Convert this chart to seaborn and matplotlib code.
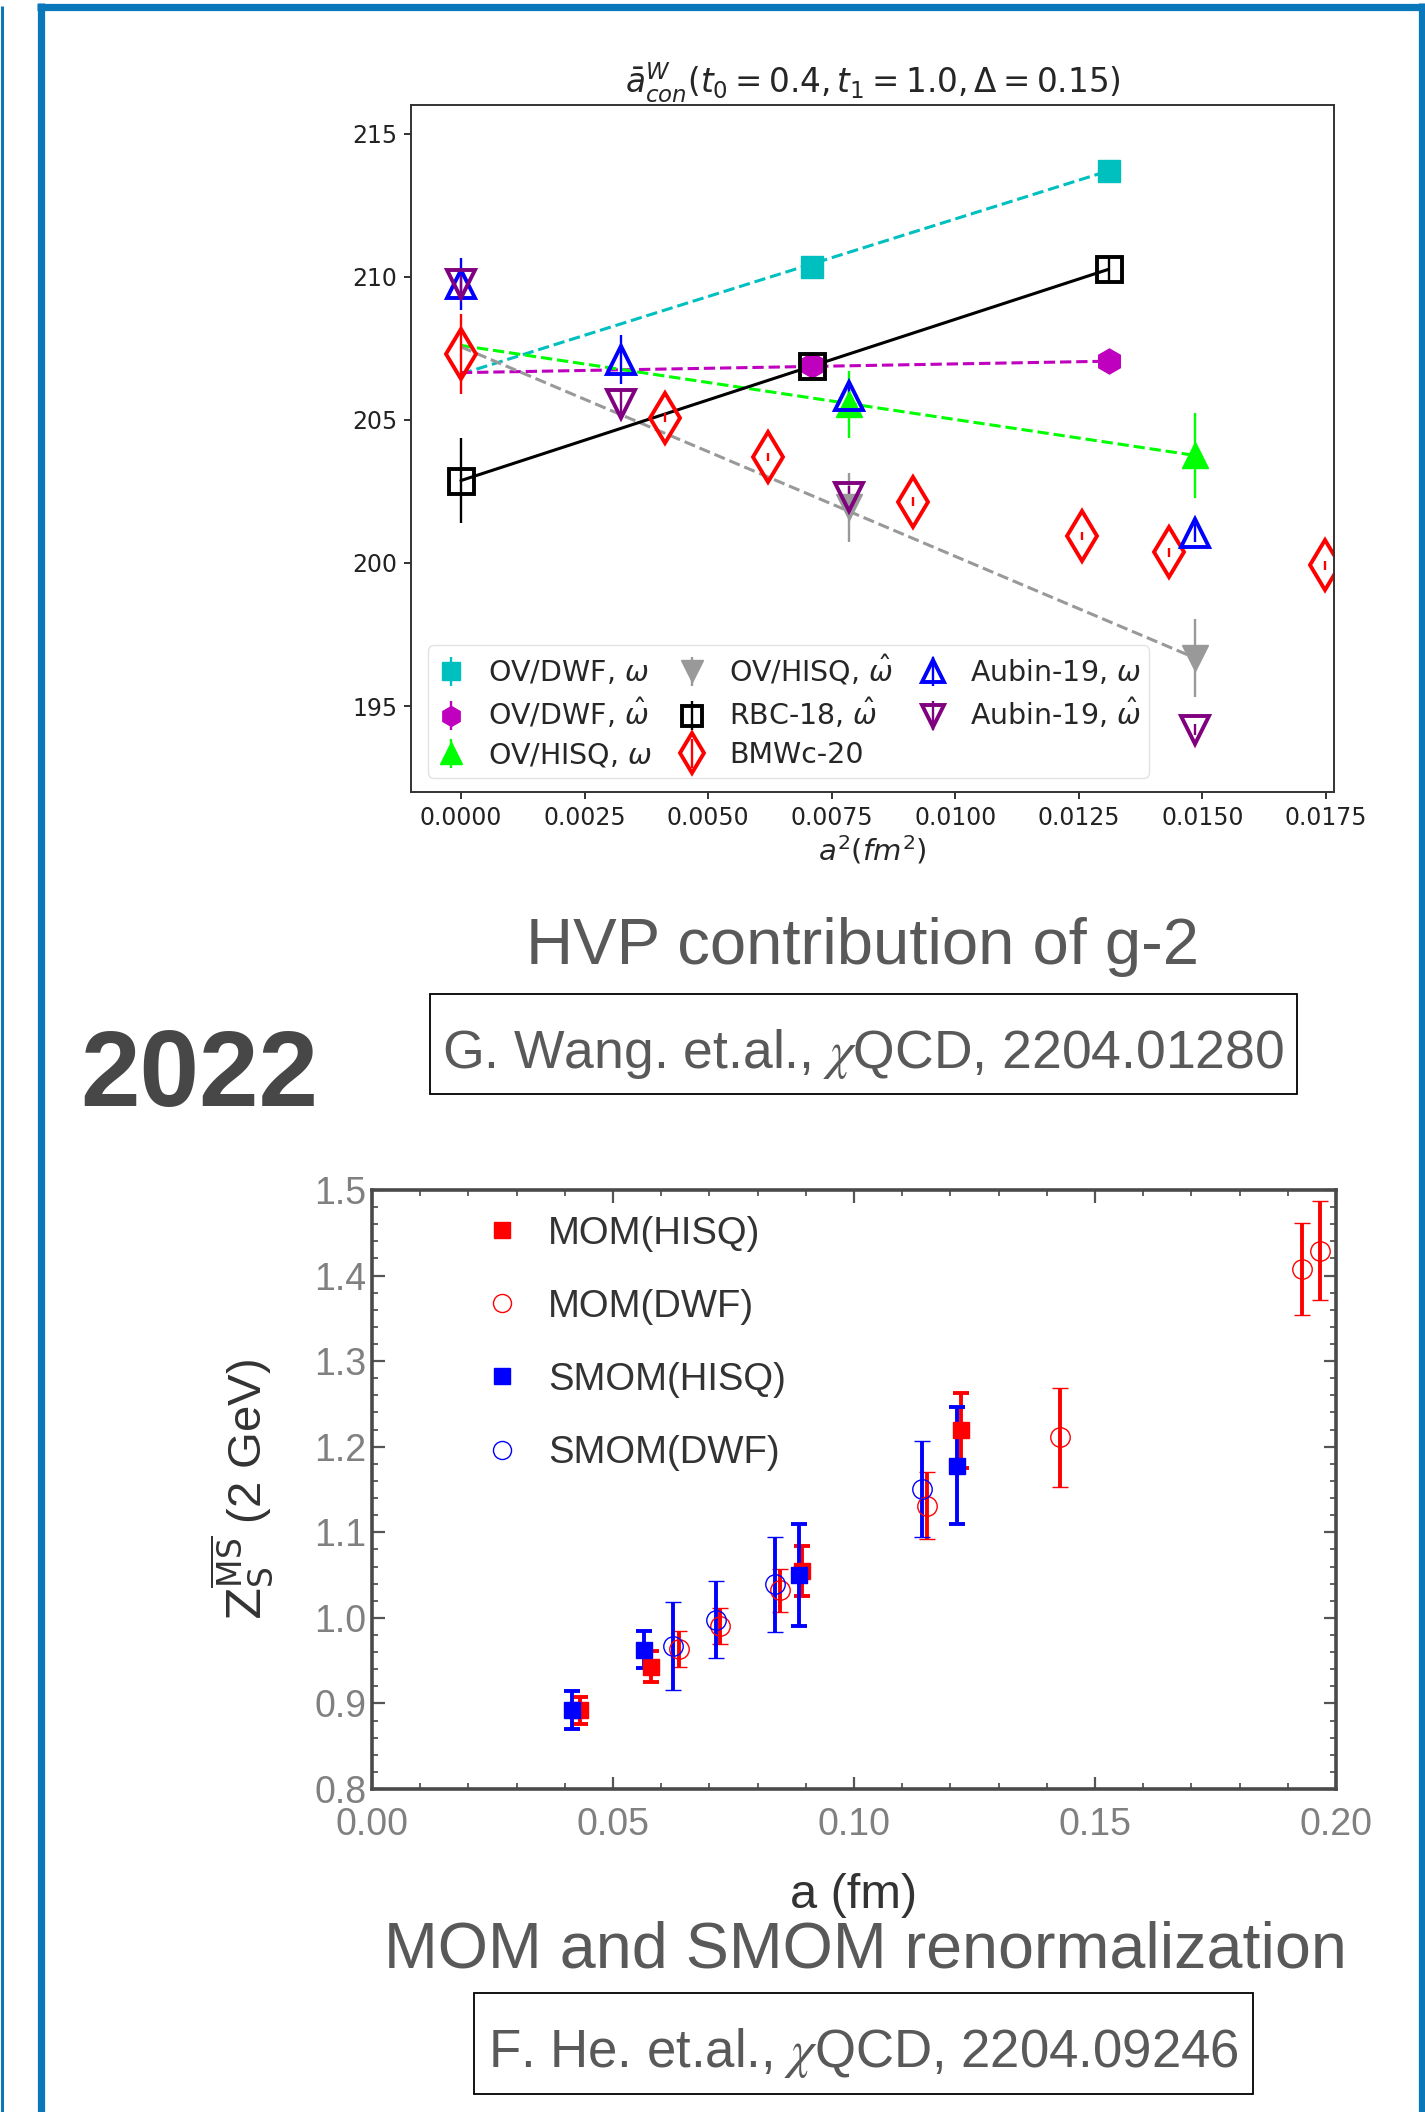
import numpy as np
import pandas as pd
import matplotlib
matplotlib.use("Agg")
import matplotlib.pyplot as plt
import seaborn as sns
from matplotlib.lines import Line2D
from matplotlib.patches import Rectangle
from matplotlib.ticker import MultipleLocator, FormatStrFormatter

# ---------------- top panel data (HVP window, a^2 in fm^2) ----------------
a2_ovdwf = [0.0071, 0.0131]
ovdwf_w = [210.35, 213.70]
ovdwf_w_err = [0.30, 0.30]
ovdwf_wh = [206.90, 207.05]
ovdwf_wh_err = [0.20, 0.20]
fit_ovdwf_w = [206.60, 213.70]
fit_ovdwf_wh = [206.65, 207.05]

a2_ovhisq = [0.00784, 0.01484]
ovhisq_w = [205.55, 203.76]
ovhisq_w_err = [1.17, 1.48]
ovhisq_wh = [201.95, 196.69]
ovhisq_wh_err = [1.20, 1.36]
fit_ovhisq_w = [207.60, 203.76]
fit_ovhisq_wh = [207.55, 196.69]

a2_rbc = [0.0, 0.0071, 0.0131]
rbc = [202.88, 206.88, 210.26]
rbc_err = [1.48, 0.25, 0.45]

a2_bmw = [0.0, 0.00412, 0.00622, 0.00915, 0.01257, 0.01432, 0.01747]
bmw = [207.30, 205.08, 203.70, 202.14, 200.94, 200.37, 199.92]
bmw_err = [1.39, 0.15, 0.15, 0.15, 0.15, 0.15, 0.15]

a2_aubin = [0.0, 0.00324, 0.00784, 0.01484]
aubin_w = [209.75, 207.10, 205.84, 201.05]
aubin_w_err = [0.90, 0.85, 0.30, 0.30]
aubin_wh = [209.75, 205.55, 202.30, 194.18]
aubin_wh_err = [0.50, 0.50, 0.40, 0.20]

top_xticks = [0.0, 0.0025, 0.005, 0.0075, 0.01, 0.0125, 0.015, 0.0175]
top_yticks = [195, 200, 205, 210, 215]

# ---------------- bottom panel data (Z_S, a in fm) ----------------
mom_hisq_a = [0.0432, 0.0578, 0.0892, 0.1223]
mom_hisq = [0.892, 0.943, 1.055, 1.219]
mom_hisq_err = [0.016, 0.018, 0.029, 0.044]

mom_dwf_a = [0.0636, 0.0721, 0.0846, 0.1151, 0.1428, 0.1930, 0.1967]
mom_dwf = [0.964, 0.990, 1.032, 1.131, 1.211, 1.408, 1.429]
mom_dwf_err = [0.021, 0.021, 0.025, 0.039, 0.058, 0.054, 0.058]

smom_hisq_a = [0.0415, 0.0564, 0.0885, 0.1214]
smom_hisq = [0.892, 0.963, 1.050, 1.178]
smom_hisq_err = [0.022, 0.022, 0.060, 0.068]

smom_dwf_a = [0.0625, 0.0713, 0.0836, 0.1142]
smom_dwf = [0.967, 0.998, 1.039, 1.151]
smom_dwf_err = [0.051, 0.045, 0.055, 0.056]

bot_xticks = [0.0, 0.05, 0.10, 0.15, 0.20]
bot_yticks = [0.8, 0.9, 1.0, 1.1, 1.2, 1.3, 1.4, 1.5]
bot_labels = ["MOM(HISQ)", "MOM(DWF)", "SMOM(HISQ)", "SMOM(DWF)"]

# ---------------- style ----------------
sns.set_theme(style="ticks")
plt.rcParams["font.family"] = ["DejaVu Sans"]
plt.rcParams["mathtext.fontset"] = "dejavusans"

CYAN = "#00BFBF"
MAGENTA = "#BF00BF"

W, H = 1425, 2112
fig = plt.figure(figsize=(W / 100, H / 100), dpi=100)
fig.patch.set_facecolor("white")


def fx(p):
    return p / W


def fy(p):
    return 1 - p / H


# ---------------- slide frame ----------------
fc = "#0a77bb"
fig.add_artist(Line2D([fx(1.5), fx(1.5)], [fy(6), 0], color=fc, lw=2.2,
                      transform=fig.transFigure, solid_capstyle="butt"))
fig.add_artist(Line2D([fx(40.5), fx(40.5)], [fy(3), 0], color=fc, lw=5.2,
                      transform=fig.transFigure, solid_capstyle="butt"))
fig.add_artist(Line2D([fx(37), fx(1425)], [fy(7), fy(7)], color=fc, lw=5.2,
                      transform=fig.transFigure, solid_capstyle="butt"))
fig.add_artist(Line2D([fx(1421.5), fx(1421.5)], [fy(3), 0], color=fc, lw=5.2,
                      transform=fig.transFigure, solid_capstyle="butt"))

# ---------------- top chart ----------------
ax1 = fig.add_axes([fx(411), fy(792), (1334 - 411) / W, (792 - 105) / H])
ax1.set_facecolor("white")

sns.lineplot(x=[0.0, a2_ovdwf[-1]], y=fit_ovdwf_w, ax=ax1, color=CYAN,
             linestyle="--", lw=2.2, zorder=1)
sns.lineplot(x=[0.0, a2_ovdwf[-1]], y=fit_ovdwf_wh, ax=ax1, color=MAGENTA,
             linestyle="--", lw=2.2, zorder=1)
sns.lineplot(x=[0.0, a2_ovhisq[-1]], y=fit_ovhisq_w, ax=ax1, color="lime",
             linestyle="--", lw=2.2, zorder=1)
sns.lineplot(x=[0.0, a2_ovhisq[-1]], y=fit_ovhisq_wh, ax=ax1, color="#999999",
             linestyle="--", lw=2.2, zorder=1)
sns.lineplot(x=[0.0, a2_rbc[-1]], y=[rbc[0], rbc[-1]], ax=ax1, color="black",
             linestyle="-", lw=2.2, zorder=1)

eb = dict(capsize=0, elinewidth=1.7, ls="none")
ax1.errorbar(a2_ovdwf, ovdwf_w, yerr=ovdwf_w_err, fmt="s", color=CYAN, ms=16,
             label=r"OV/DWF, $\omega$", **eb)
ax1.errorbar(a2_ovdwf, ovdwf_wh, yerr=ovdwf_wh_err, fmt="h", color=MAGENTA, ms=18,
             label=r"OV/DWF, $\hat{\omega}$", **eb)
ax1.errorbar(a2_ovhisq, ovhisq_w, yerr=ovhisq_w_err, fmt="^", color="lime", ms=19,
             label=r"OV/HISQ, $\omega$", **eb)
ax1.errorbar(a2_ovhisq, ovhisq_wh, yerr=ovhisq_wh_err, fmt="v", color="#999999", ms=19,
             label=r"OV/HISQ, $\hat{\omega}$", **eb)
ax1.errorbar(a2_rbc, rbc, yerr=rbc_err, fmt="s", color="black", ms=18, mfc="none",
             mew=2.8, label=r"RBC-18, $\hat{\omega}$", **eb)
ax1.errorbar(a2_bmw, bmw, yerr=bmw_err, fmt="d", color="red", ms=25, mfc="none",
             mew=2.8, label="BMWc-20", **eb)
ax1.errorbar(a2_aubin, aubin_w, yerr=aubin_w_err, fmt="^", color="blue", ms=20,
             mfc="none", mew=2.8, label=r"Aubin-19, $\omega$", **eb)
ax1.errorbar(a2_aubin, aubin_wh, yerr=aubin_wh_err, fmt="v", color="purple", ms=20,
             mfc="none", mew=2.8, label=r"Aubin-19, $\hat{\omega}$", **eb)

ax1.set_xlim(-0.00101, 0.01766)
ax1.set_ylim(192.0, 216.0)
ax1.set_xticks(top_xticks)
ax1.set_yticks(top_yticks)
ax1.xaxis.set_major_formatter(FormatStrFormatter("%.4f"))
ax1.tick_params(labelsize=17, length=5, width=1.3, pad=5, colors="#222222")
for s in ax1.spines.values():
    s.set_linewidth(1.4)
    s.set_color("#333333")
ax1.set_title(r"$\bar{a}^{W}_{con}(t_0=0.4,t_1=1.0,\Delta=0.15)$", fontsize=23.5, pad=3)
ax1.set_xlabel(r"$a^2(fm^2)$", fontsize=21, labelpad=3)
ax1.legend(ncol=3, loc="lower left", bbox_to_anchor=(0.0184, 0.0204), borderaxespad=0,
           fontsize=20.5, markerscale=0.8, handlelength=1.0, handletextpad=0.8,
           columnspacing=0.9, labelspacing=0.35, borderpad=0.3, framealpha=0.85,
           edgecolor="#dddddd")

# ---------------- slide texts ----------------
txt_col = "#595959"
fig.text(fx(863), fy(964), "HVP contribution of g-2", ha="center", va="baseline",
         fontsize=47, color=txt_col, family="Liberation Sans")
fig.add_artist(Rectangle((fx(430), fy(1094)), (1297 - 430) / W, (1094 - 994) / H,
                         transform=fig.transFigure, fill=False, ec="black", lw=1.3))
fig.text(fx(863), fy(1068), r"G. Wang. et.al., $\chi$QCD, 2204.01280", ha="center",
         va="baseline", fontsize=38.5, color=txt_col, family="Liberation Sans",
         math_fontfamily="stix")
fig.text(fx(80), fy(1106), "2022", ha="left", va="baseline", fontsize=77,
         fontweight="bold", color="#474747", family="Liberation Sans")
fig.text(fx(865), fy(1968), "MOM and SMOM renormalization", ha="center", va="baseline",
         fontsize=46.5, color=txt_col, family="Liberation Sans")
fig.add_artist(Rectangle((fx(474), fy(2094)), (1253 - 474) / W, (2094 - 1993) / H,
                         transform=fig.transFigure, fill=False, ec="black", lw=1.3))
fig.text(fx(863), fy(2067), r"F. He. et.al., $\chi$QCD, 2204.09246", ha="center",
         va="baseline", fontsize=38, color=txt_col, family="Liberation Sans",
         math_fontfamily="stix")

# ---------------- bottom chart ----------------
ax2 = fig.add_axes([fx(372), fy(1789), (1336 - 372) / W, (1789 - 1190) / H])
ax2.set_facecolor("white")
eb2 = dict(capsize=6, capthick=2.8, elinewidth=2.8, ls="none")
ax2.errorbar(mom_hisq_a, mom_hisq, yerr=mom_hisq_err, fmt="s", color="red", ms=12, **eb2)
ax2.errorbar(mom_dwf_a, mom_dwf, yerr=mom_dwf_err, fmt="o", color="red", ms=14,
             mfc="none", mew=1.0, **eb2)
ax2.errorbar(smom_hisq_a, smom_hisq, yerr=smom_hisq_err, fmt="s", color="blue", ms=12, **eb2)
ax2.errorbar(smom_dwf_a, smom_dwf, yerr=smom_dwf_err, fmt="o", color="blue", ms=14,
             mfc="none", mew=1.0, **eb2)

ax2.set_xlim(0.0, 0.2)
ax2.set_ylim(0.8, 1.5)
lab_font = dict(fontsize=27, color="#808080", family="Liberation Sans")
ax2.set_xticks(bot_xticks, labels=[f"{v:.2f}" for v in bot_xticks], **lab_font)
ax2.set_yticks(bot_yticks, labels=[f"{v:.1f}" for v in bot_yticks], **lab_font)
ax2.xaxis.set_minor_locator(MultipleLocator(0.01))
ax2.yaxis.set_minor_locator(MultipleLocator(0.02))
ax2.tick_params(which="both", direction="in", top=True, right=True, color="#555555")
ax2.tick_params(which="major", length=9, width=1.6)
ax2.tick_params(which="minor", length=4.5, width=1.3)
ax2.tick_params(axis="x", pad=13)
ax2.tick_params(axis="y", pad=4)
for s in ax2.spines.values():
    s.set_linewidth(2.6)
    s.set_color("#4a4a4a")

ax2.set_xlabel("a (fm)", fontsize=35, color="#333333", family="Liberation Sans")
ax2.xaxis.label.set_va("center")
ax2.xaxis.set_label_coords(0.5, -0.178)
ax2.set_ylabel(r"$\mathrm{Z}_{\mathrm{S}}^{\overline{\mathrm{MS}}}$ (2 GeV)", fontsize=34,
               color="#333333", family="Liberation Sans")
ax2.yaxis.set_label_coords(-0.10, 0.5)

handles = [
    Line2D([], [], marker="s", ls="none", color="red", ms=11),
    Line2D([], [], marker="o", ls="none", mfc="none", mec="red", ms=13, mew=1.0),
    Line2D([], [], marker="s", ls="none", color="blue", ms=11),
    Line2D([], [], marker="o", ls="none", mfc="none", mec="blue", ms=13, mew=1.0),
]
ax2.legend(handles, bot_labels, loc="upper left", bbox_to_anchor=(0.115, 0.957),
           frameon=False, prop={"family": "Liberation Sans", "size": 27.5},
           labelcolor="#333333", handlelength=1.0, handletextpad=0.7,
           labelspacing=0.97, borderpad=0, borderaxespad=0)

fig.savefig("out.png", dpi=100, facecolor="white")
